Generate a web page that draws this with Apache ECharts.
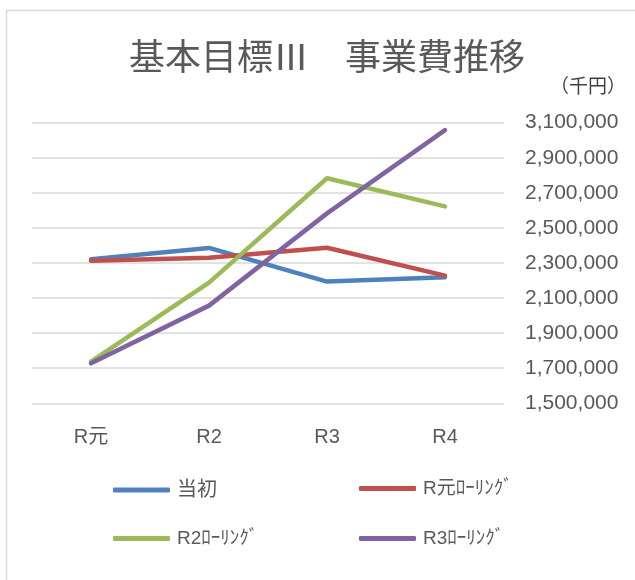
<!DOCTYPE html>
<html>
<head>
<meta charset="utf-8">
<script src="https://cdn.jsdelivr.net/npm/echarts@6/dist/echarts.min.js"></script>
<style>
html,body{margin:0;padding:0;background:#fff;}
#chart{width:635px;height:580px;}
</style>
</head>
<body>
<div id="chart"></div>
<script>
var categories = ['R元', 'R2', 'R3', 'R4'];
var seriesNames = ['当初', 'R元ﾛｰﾘﾝｸﾞ', 'R2ﾛｰﾘﾝｸﾞ', 'R3ﾛｰﾘﾝｸﾞ'];
var initialPlan = [2321000, 2386000, 2194000, 2219000];
var rollingR1 = [2313000, 2330000, 2387000, 2228000];
var rollingR2 = [1737000, 2188000, 2783000, 2623000];
var rollingR3 = [1728000, 2057000, 2583000, 3058000];
var yTicks = [1500000, 1700000, 1900000, 2100000, 2300000, 2500000, 2700000, 2900000, 3100000];

var colors = ['#4F81BD', '#C0504D', '#9BBB59', '#8064A2'];
var FONT = "'Liberation Sans', 'Noto Sans CJK JP', sans-serif";
var CJK = "'Noto Sans CJK JP', sans-serif";
var values = [initialPlan, rollingR1, rollingR2, rollingR3];

var chart = echarts.init(document.getElementById('chart'));

var legendPos = [
  {left: 113, top: 480},
  {left: 359, top: 479},
  {left: 113, top: 529},
  {left: 359, top: 529}
];

var option = {
  backgroundColor: '#fff',
  animation: false,
  title: {
    text: '基本目標Ⅲ　事業費推移',
    left: 322,
    top: 33,
    textAlign: 'center',
    textStyle: {fontFamily: CJK, fontSize: 36, fontWeight: 'normal', color: '#595959'}
  },
  graphic: [
    {type: 'rect', left: 4, top: 8, shape: {width: 700, height: 700},
     style: {fill: 'none', stroke: '#d9d9d9', lineWidth: 1.5}, silent: true, z: -10},
    {type: 'text', left: 550, top: 76,
     style: {text: '（千円）', font: '19px ' + CJK, fill: '#404040'}}
  ],
  legend: seriesNames.map(function (n, i) {
    return {
      data: [n],
      left: legendPos[i].left,
      top: legendPos[i].top,
      padding: 0,
      icon: 'roundRect',
      itemWidth: 57,
      itemHeight: 5,
      textStyle: {fontFamily: FONT, fontSize: i === 0 ? 20 : 19, color: '#595959', padding: [0, 0, 0, 2]}
    };
  }),
  grid: {left: 32, right: 131, top: 122.7, bottom: 176.7},
  xAxis: {
    type: 'category',
    data: categories,
    boundaryGap: true,
    axisLine: {show: false},
    axisTick: {show: false},
    axisLabel: {fontFamily: FONT, fontSize: 20, color: '#595959', margin: 24}
  },
  yAxis: {
    type: 'value',
    position: 'right',
    min: yTicks[0],
    max: yTicks[yTicks.length - 1],
    interval: yTicks[1] - yTicks[0],
    axisLine: {show: false},
    axisTick: {show: false},
    splitLine: {lineStyle: {color: '#d9d9d9', width: 1.5}},
    axisLabel: {
      fontFamily: FONT, fontSize: 21, color: '#595959', margin: 21,
      formatter: function (v) { return v.toLocaleString('en-US'); }
    }
  },
  series: seriesNames.map(function (n, i) {
    return {
      name: n,
      type: 'line',
      data: values[i],
      symbol: 'none',
      color: colors[i],
      lineStyle: {width: 4.5, color: colors[i], cap: 'round', join: 'round'}
    };
  })
};
chart.setOption(option);
</script>
</body>
</html>
